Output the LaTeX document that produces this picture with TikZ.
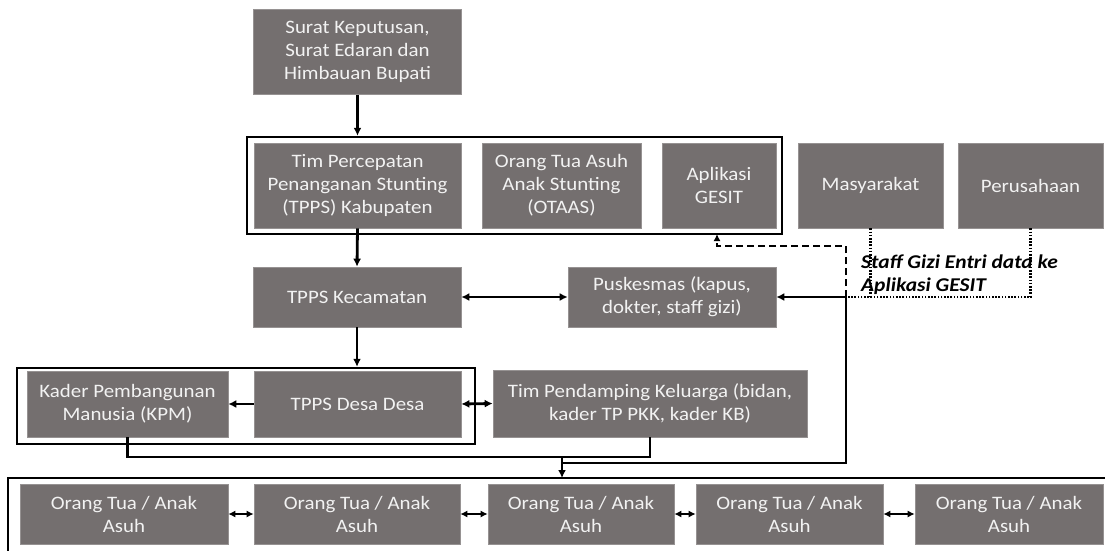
\documentclass[tikz,border=0pt]{standalone}
\usepackage{fontspec}
\setmainfont{Carlito}[FakeStretch=1.1]
\usetikzlibrary{arrows.meta}
\definecolor{boxgray}{RGB}{116,111,111}
\definecolor{boxedge}{RGB}{150,146,146}
\definecolor{txt}{RGB}{242,242,242}
\begin{document}
\begin{tikzpicture}[x=1pt,y=-1pt,
  gbox/.style={fill=boxgray,draw=boxedge,line width=0.6pt,text=txt,align=center,inner sep=2pt,
    font=\fontsize{19}{23}\selectfont},
  grp/.style={draw=black,line width=2.4pt,inner sep=0pt},
  conn/.style={line width=2.8pt},
  arr/.style={line width=2.8pt,-{Latex[length=8pt,width=8pt]}},
  darr/.style={line width=2.8pt,{Latex[length=8pt,width=8pt]}-{Latex[length=8pt,width=8pt]}},
  sdarr/.style={line width=2.2pt,{Latex[length=7pt,width=7pt]}-{Latex[length=7pt,width=7pt]}},
  dashline/.style={line width=2.5pt,dash pattern=on 7pt off 4pt},
  dotline/.style={line width=2.2pt,dash pattern=on 1.6pt off 1.6pt}]
\useasboundingbox (0,0) rectangle (1105,551);
% group frames
\node[grp,minimum width=535,minimum height=97] (grp1) at (514.5,185.5) {};
\node[grp,minimum width=458,minimum height=76] (grp2) at (246,406) {};
% boxes
\node[gbox,minimum width=208,minimum height=85] (top) at (357.5,52) {Surat Keputusan,\\Surat Edaran dan\\Himbauan Bupati};
\node[gbox,minimum width=207,minimum height=85] (kab) at (357.5,185.5) {Tim Percepatan\\Penanganan Stunting\\(TPPS) Kabupaten};
\node[gbox,minimum width=159,minimum height=85] (otaas) at (561.5,185.5) {Orang Tua Asuh\\Anak Stunting\\(OTAAS)};
\node[gbox,minimum width=114,minimum height=85] (gesit) at (719,185.5) {Aplikasi\\GESIT};
\node[gbox,minimum width=145,minimum height=85] (masy) at (870.5,185.5) {Masyarakat};
\node[gbox,minimum width=145,minimum height=85] (perus) at (1030.5,185.5) {Perusahaan};
\node[gbox,minimum width=208,minimum height=60] (kec) at (357,297) {TPPS Kecamatan};
\node[gbox,minimum width=208,minimum height=60] (pusk) at (672,297) {Puskesmas (kapus,\\dokter, staff gizi)};
\node[gbox,minimum width=201,minimum height=66] (kpm) at (127.5,404) {Kader Pembangunan\\Manusia (KPM)};
\node[gbox,minimum width=207,minimum height=66] (desa) at (357.5,404) {TPPS Desa Desa};
\node[gbox,minimum width=314,minimum height=67] (timp) at (650,403.5) {Tim Pendamping Keluarga (bidan,\\kader TP PKK, kader KB)};
\node[gbox,minimum width=208,minimum height=60] (b1) at (124,514) {Orang Tua / Anak\\Asuh};
\node[gbox,minimum width=206,minimum height=60] (b2) at (357,514) {Orang Tua / Anak\\Asuh};
\node[gbox,minimum width=186,minimum height=60] (b3) at (581,514) {Orang Tua / Anak\\Asuh};
\node[gbox,minimum width=187,minimum height=60] (b4) at (789.5,514) {Orang Tua / Anak\\Asuh};
\node[gbox,minimum width=188,minimum height=60] (b5) at (1009,514) {Orang Tua / Anak\\Asuh};
% bottom open frame
\coordinate (fl) at (8,551);
\coordinate (ftl) at (8,478);
\coordinate (ftr) at (1105,478);
\draw[line width=2pt] (fl) -- (ftl) -- (ftr);
% label
\node[anchor=west,inner sep=0pt,align=left,font=\fontsize{19.5}{23}\selectfont\bfseries\itshape] (lbl) at (861,275) {Staff Gizi Entri data ke\\Aplikasi GESIT};
% helper coordinates
\coordinate (pc) at (846,297);
\coordinate (pb) at (846,463);
\coordinate (j) at (562,457);
\coordinate (ja) at (562,478);
\coordinate (d1) at (846,246);
\coordinate (d2) at (717,246);
\coordinate (d3) at (717,234);
% connectors
\draw[arr] (top.south) -- (top.south |- grp1.north);
\draw[arr] (kab.south) -- (kec.north);
\draw[arr] (kec.south) -- (kec.south |- grp2.north);
\draw[darr] (kec.east) -- (pusk.west);
\draw[dotline] (masy.south) -- (masy.south |- pc);
\draw[dotline] (perus.south) |- (pc);
\draw[dashline] (pc) -- (d1) -- (d2) -- ([yshift=-6pt]d3);
\draw[line width=2.5pt,-{Latex[length=7pt,width=7pt]}] ([yshift=-7pt]d3) -- (d3);
\draw[arr] (pb -| j) -- (pb) -- (pc) -- (pusk.east);
\draw[arr] (desa.west) -- (kpm.east);
\draw[darr] (desa.east) -- (timp.west);
\draw[conn] (kpm.south) |- (j);
\draw[conn] (timp.south) |- (j);
\draw[arr] ([yshift=-1pt]j) -- (ja);
\draw[sdarr] (b1.east) -- (b2.west);
\draw[sdarr] (b2.east) -- (b3.west);
\draw[sdarr] (b3.east) -- (b4.west);
\draw[sdarr] (b4.east) -- (b5.west);
\end{tikzpicture}
\end{document}
